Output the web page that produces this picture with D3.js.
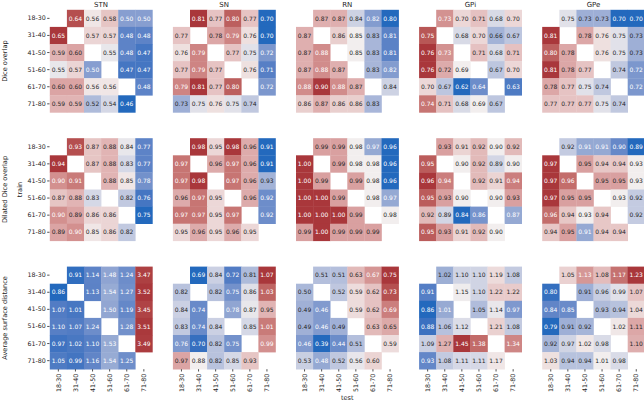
<!DOCTYPE html>
<html>
<head>
<meta charset="utf-8">
<script src="https://cdn.jsdelivr.net/npm/d3@7"></script>
<style>
  html, body { margin: 0; padding: 0; background: #fff; }
  svg { display: block; font-family: "DejaVu Sans", sans-serif; }
</style>
</head>
<body>
<svg id="chart" width="644" height="401"></svg>
<script>
// ---------- data ----------
const ageGroups = ["18-30", "31-40", "41-50", "51-60", "61-70", "71-80"];
const structures = ["STN", "SN", "RN", "GPi", "GPe"];
const metrics = ["Dice overlap", "Dilated Dice overlap", "Average surface distance"];
const n = null;

// Dice overlap (rows = train, cols = test)
const diceSTN = [[n,.64,.56,.58,.50,.50],[.65,n,.57,.57,.48,.48],[.59,.60,n,.55,.48,.47],[.55,.57,.50,n,.47,.47],[.60,.60,.56,.56,n,.48],[.59,.59,.52,.54,.46,n]];
const diceSN  = [[n,.81,.77,.80,.77,.70],[.77,n,.78,.79,.76,.70],[.76,.79,n,.77,.75,.72],[.77,.79,.77,n,.76,.71],[.79,.81,.77,.80,n,.72],[.73,.75,.76,.75,.74,n]];
const diceRN  = [[n,.87,.87,.84,.82,.80],[.87,n,.86,.85,.83,.81],[.87,.88,n,.85,.83,.81],[.87,.88,.87,n,.83,.82],[.88,.90,.88,.87,n,.84],[.86,.87,.86,.86,.83,n]];
const diceGPi = [[n,.73,.70,.71,.68,.70],[.75,n,.68,.70,.66,.67],[.76,.73,n,.71,.68,.71],[.76,.72,.69,n,.67,.70],[.70,.67,.62,.64,n,.63],[.74,.71,.68,.69,.67,n]];
const diceGPe = [[n,.75,.73,.73,.70,.70],[.81,n,.78,.76,.75,.73],[.80,.78,n,.76,.75,.73],[.81,.78,.77,n,.74,.72],[.78,.77,.75,.74,n,.72],[.77,.77,.77,.75,.74,n]];

// Dilated Dice overlap
const dilSTN = [[n,.93,.87,.88,.84,.77],[.94,n,.87,.88,.83,.77],[.90,.91,n,.88,.85,.78],[.87,.88,.83,n,.82,.76],[.90,.89,.86,.86,n,.75],[.89,.90,.85,.86,.82,n]];
const dilSN  = [[n,.98,.95,.98,.96,.91],[.97,n,.96,.97,.96,.91],[.97,.98,n,.97,.96,.93],[.96,.97,.95,n,.96,.92],[.97,.97,.95,.97,n,.92],[.95,.96,.95,.96,.95,n]];
const dilRN  = [[n,.99,.99,.98,.97,.96],[1.00,n,.99,.98,.98,.96],[1.00,.99,n,.99,.98,.96],[1.00,1.00,.99,n,.98,.97],[1.00,1.00,1.00,.99,n,.98],[.99,1.00,.99,.99,.99,n]];
const dilGPi = [[n,.93,.91,.92,.90,.92],[.95,n,.90,.92,.89,.90],[.96,.94,n,.92,.91,.94],[.95,.93,.90,n,.90,.93],[.92,.89,.84,.86,n,.87],[.95,.93,.91,.92,.90,n]];
const dilGPe = [[n,.92,.91,.91,.90,.89],[.97,n,.95,.94,.94,.93],[.97,.96,n,.95,.95,.93],[.97,.95,.95,n,.93,.92],[.96,.94,.93,.94,n,.92],[.94,.95,.91,.94,.94,n]];

// Average surface distance
const asdSTN = [[n,.91,1.14,1.48,1.24,3.47],[.86,n,1.13,1.54,1.27,3.52],[1.07,1.01,n,1.50,1.19,3.45],[1.10,1.07,1.24,n,1.28,3.51],[.97,1.02,1.10,1.53,n,3.49],[1.05,.99,1.16,1.54,1.25,n]];
const asdSN  = [[n,.69,.84,.72,.81,1.07],[.82,n,.82,.75,.86,1.03],[.84,.74,n,.78,.87,.95],[.83,.74,.84,n,.85,1.01],[.76,.70,.82,.75,n,.99],[.97,.88,.82,.85,.93,n]];
const asdRN  = [[n,.51,.51,.63,.67,.75],[.50,n,.52,.59,.62,.73],[.49,.46,n,.59,.62,.69],[.49,.46,.49,n,.63,.65],[.46,.39,.44,.51,n,.59],[.53,.48,.52,.56,.60,n]];
const asdGPi = [[n,1.02,1.10,1.10,1.19,1.08],[.91,n,1.15,1.10,1.22,1.22],[.86,1.01,n,1.05,1.14,.97],[.88,1.06,1.12,n,1.21,1.08],[1.09,1.27,1.45,1.38,n,1.34],[.93,1.08,1.11,1.11,1.17,n]];
const asdGPe = [[n,1.05,1.13,1.08,1.17,1.23],[.80,n,.91,.96,.99,1.07],[.84,.85,n,.93,.94,1.04],[.79,.91,.92,n,1.02,1.11],[.92,.97,1.02,.98,n,1.10],[1.03,.94,.94,1.01,.98,n]];

const grid = [
  [diceSTN, diceSN, diceRN, diceGPi, diceGPe],
  [dilSTN, dilSN, dilRN, dilGPi, dilGPe],
  [asdSTN, asdSN, asdRN, asdGPi, asdGPe]
];

// ---------- layout ----------
const cell = 17.1;
const side = cell * 6;
const panelLeft0 = 49.8, panelStep = 123.1;
const rowTop0 = 9.8, rowStep = 128.4;
const textDark = "#262626";

const svg = d3.select("#chart");
const vlag = d3.piecewise(d3.interpolateLab, ["#2369bd", "#95a9d3", "#f2eeee", "#d9a0a0", "#a9373b"]);

function lum(c) {
  const f = v => { v /= 255; return v <= 0.03928 ? v / 12.92 : Math.pow((v + 0.055) / 1.055, 2.4); };
  const r = d3.rgb(c);
  return 0.2126 * f(r.r) + 0.7152 * f(r.g) + 0.0722 * f(r.b);
}
const fmt = d3.format(".2f");

grid.forEach((row, ri) => {
  row.forEach((mat, ci) => {
    const g = svg.append("g")
      .attr("transform", `translate(${panelLeft0 + ci * panelStep},${rowTop0 + ri * rowStep})`);
    const x = d3.scaleBand().domain(ageGroups).range([0, side]);
    const y = d3.scaleBand().domain(ageGroups).range([0, side]);
    const vals = mat.flat().filter(v => v !== null);
    const c = d3.scaleLinear().domain(d3.extent(vals)).range([0, 1]);
    const cells = [];
    mat.forEach((r, i) => r.forEach((v, j) => { if (v !== null) cells.push({ tr: ageGroups[i], te: ageGroups[j], v }); }));

    g.selectAll("rect").data(cells).join("rect")
      .attr("x", d => x(d.te)).attr("y", d => y(d.tr))
      .attr("width", x.bandwidth() + 0.3).attr("height", y.bandwidth() + 0.3)
      .attr("fill", d => vlag(c(d.v)));

    g.selectAll("text.annot").data(cells).join("text")
      .attr("class", "annot")
      .attr("x", d => x(d.te) + x.bandwidth() / 2)
      .attr("y", d => y(d.tr) + y.bandwidth() / 2)
      .attr("dy", "0.36em")
      .attr("text-anchor", "middle")
      .attr("font-size", 6)
      .attr("fill", d => lum(vlag(c(d.v))) > 0.408 ? textDark : "#ffffff")
      .text(d => fmt(d.v));

    // y axis on first column
    if (ci === 0) {
      const ya = g.append("g").call(d3.axisLeft(y).tickSize(2.3).tickPadding(1.8));
      ya.select(".domain").remove();
      ya.selectAll("line").attr("stroke", textDark).attr("stroke-width", 0.8).attr("transform", "translate(-0.3,0)");
      ya.selectAll("text").attr("font-size", 6.3).attr("fill", textDark).attr("font-family", "DejaVu Sans");
    }
    // x axis on last row
    if (ri === 2) {
      const xa = g.append("g").attr("transform", `translate(0,${side})`)
        .call(d3.axisBottom(x).tickSize(2.3).tickPadding(1.8));
      xa.select(".domain").remove();
      xa.selectAll("line").attr("stroke", textDark).attr("stroke-width", 0.8);
      xa.selectAll("text")
        .attr("font-size", 6.3).attr("fill", textDark).attr("font-family", "DejaVu Sans")
        .attr("text-anchor", "end")
        .attr("transform", "rotate(-90)")
        .attr("x", -4.5).attr("y", 0).attr("dy", "0.35em");
    }
    // titles on first row
    if (ri === 0) {
      g.append("text").attr("x", side / 2).attr("y", -2.8)
        .attr("text-anchor", "middle").attr("font-size", 7).attr("fill", textDark)
        .text(structures[ci]);
    }
  });
  // row label
  const cy = rowTop0 + ri * rowStep + side / 2;
  svg.append("text")
    .attr("transform", `translate(6.6,${cy}) rotate(-90)`)
    .attr("text-anchor", "middle").attr("font-size", 6.6).attr("fill", textDark)
    .text(metrics[ri]);
});

// axis titles
svg.append("text")
  .attr("transform", `translate(21.7,${rowTop0 + rowStep + side / 2}) rotate(-90)`)
  .attr("text-anchor", "middle").attr("font-size", 6.6).attr("fill", textDark)
  .text("train");
svg.append("text")
  .attr("x", panelLeft0 + 2 * panelStep + side / 2).attr("y", 399.5)
  .attr("text-anchor", "middle").attr("font-size", 6.6).attr("fill", textDark)
  .text("test");
</script>
</body>
</html>
